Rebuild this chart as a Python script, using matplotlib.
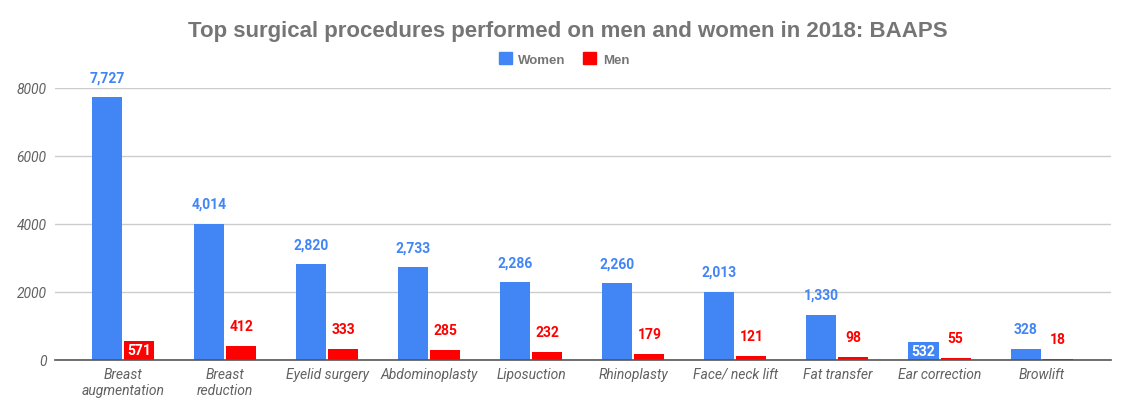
import numpy as np
import matplotlib.pyplot as plt
from matplotlib.patches import Patch

categories = ["Breast\naugmentation", "Breast\nreduction", "Eyelid surgery", "Abdominoplasty",
              "Liposuction", "Rhinoplasty", "Face/ neck lift", "Fat transfer",
              "Ear correction", "Browlift"]
women = [7727, 4014, 2820, 2733, 2286, 2260, 2013, 1330, 532, 328]
men = [571, 412, 333, 285, 232, 179, 121, 98, 55, 18]
# labels drawn inside the bar (white) instead of above
women_inside = [8]
men_inside = [0]

blue = "#4285f4"
red = "#ff0000"
gray = "#757575"

plt.rcParams['font.family'] = ['Roboto', 'DejaVu Sans']

fig = plt.figure(figsize=(11.29, 4.14), dpi=100)
ax = fig.add_axes([55 / 1129, 1 - 361 / 414, (1111 - 55) / 1129, (361 - 89) / 414])

x = np.arange(len(categories))
w = 0.294
off = 0.157
bw = ax.bar(x - off, women, w, color=blue, zorder=3)
bm = ax.bar(x + off, men, w, color=red, zorder=3)

ax.set_xlim(-0.666, 9.68)
ax.set_ylim(0, 8000)
ax.set_yticks([0, 2000, 4000, 6000, 8000])
ax.grid(axis='y', color='#cccccc', linewidth=1, zorder=0)
for s in ['top', 'right', 'left']:
    ax.spines[s].set_visible(False)
ax.spines['bottom'].set_color('#555555')
ax.spines['bottom'].set_linewidth(1.2)
ax.spines['bottom'].set_zorder(4)
ax.tick_params(axis='both', length=0, colors='#616161')
ax.tick_params(axis='y', pad=6)
ax.tick_params(axis='x', pad=5)
ax.set_xticks(x)
ax.set_xticklabels(categories, fontsize=10, style='italic', color='#616161', linespacing=1.2)
for t in ax.get_yticklabels():
    t.set_fontsize(10)
    t.set_fontstyle('italic')
    t.set_color('#616161')

px = 8000 / (361 - 89)  # data units per pixel
for vals, xs, col, inside in [(women, x - off, blue, women_inside), (men, x + off, red, men_inside)]:
    for i, (xi, v) in enumerate(zip(xs, vals)):
        if i in inside:
            ax.text(xi, v / 2, f"{v:,}", ha='center', va='center', color='white',
                    fontsize=10, fontweight='bold', zorder=5)
        else:
            ax.text(xi, v + 20 * px, f"{v:,}", ha='center', va='center', color=col,
                    fontsize=10, fontweight='bold', zorder=5, clip_on=False)

fig.text(0.503, 1 - 31 / 414, "Top surgical procedures performed on men and women in 2018: BAAPS",
         ha='center', va='center', fontsize=16, fontweight='bold', color=gray,
         family=['Liberation Sans', 'DejaVu Sans'])

handles = [Patch(color=blue, label='Women'), Patch(color=red, label='Men')]
leg = fig.legend(handles=handles, loc='center', bbox_to_anchor=(564 / 1129, 1 - 60 / 414), ncol=2,
                 frameon=False, handlelength=1.0, handleheight=1.0, handletextpad=0.5,
                 columnspacing=1.3, prop={'weight': 'bold', 'size': 9.5,
                                          'family': ['Liberation Sans', 'DejaVu Sans']})
for t in leg.get_texts():
    t.set_color(gray)

fig.savefig("out.png", dpi=100)
